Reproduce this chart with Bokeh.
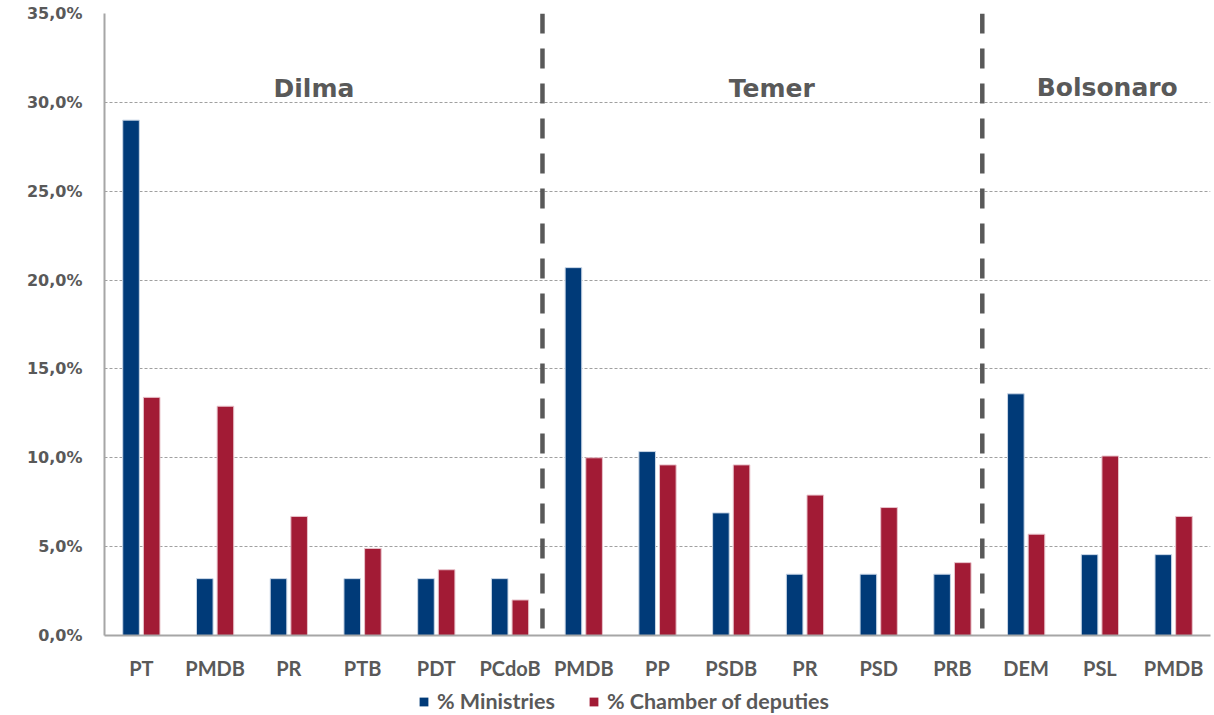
from bokeh.plotting import figure
from bokeh.layouts import column
from bokeh.models import ColumnDataSource, Span, Legend, LegendItem, FixedTicker, Label
from bokeh.embed import file_html
from bokeh.resources import INLINE

# ---- data ----
parties = ["PT", "PMDB", "PR", "PTB", "PDT", "PCdoB",
           "PMDB", "PP", "PSDB", "PR", "PSD", "PRB",
           "DEM", "PSL", "PMDB"]
ministries = [29.0, 3.2, 3.2, 3.2, 3.2, 3.2,
              20.7, 10.35, 6.9, 3.45, 3.45, 3.45,
              13.6, 4.55, 4.55]
chamber = [13.4, 12.9, 6.7, 4.9, 3.7, 2.0,
           10.0, 9.6, 9.6, 7.9, 7.2, 4.1,
           5.7, 10.1, 6.7]
eras = ["Dilma", "Temer", "Bolsonaro"]
era_label_x = [2.84, 9.05, 13.6]
era_label_y = [29.98, 29.98, 30.03]
era_separators = [5.94, 11.905]
y_ticks = [0, 5, 10, 15, 20, 25, 30, 35]
series_names = ["% Ministries", "% Chamber of deputies"]

BLUE = "#003A78"
RED = "#A21B35"
GRAY = "#595959"

n = len(parties)
centers = [i + 0.5 for i in range(n)]
src = ColumnDataSource(dict(
    x_min=[c - 0.14 for c in centers],
    x_cha=[c + 0.14 for c in centers],
    ministries=ministries,
    chamber=chamber,
))

p = figure(width=1214, height=685, x_range=(0, n), y_range=(0, 35),
           output_backend="svg", toolbar_location=None,
           min_border_left=104, min_border_right=4, min_border_top=13,
           min_border_bottom=50)
p.outline_line_color = None
p.background_fill_color = "white"

p.vbar(x="x_min", top="ministries", width=0.225, source=src,
       fill_color=BLUE, line_color="#c9d6e6", line_width=1)
p.vbar(x="x_cha", top="chamber", width=0.225, source=src,
       fill_color=RED, line_color="#e8c3cb", line_width=1)

# axes
p.xaxis.ticker = FixedTicker(ticks=centers)
p.xaxis.major_label_overrides = {c: lab for c, lab in zip(centers, parties)}
p.xaxis.major_tick_line_color = None
p.xaxis.minor_tick_line_color = None
p.xaxis.axis_line_color = "#A6A6A6"
p.xaxis.axis_line_width = 2
p.xaxis.major_label_text_font = "Lato"
p.xaxis.major_label_text_font_style = "bold"
p.xaxis.major_label_text_font_size = "20px"
p.xaxis.major_label_text_color = GRAY
p.xaxis.major_label_standoff = 14

p.yaxis.ticker = FixedTicker(ticks=y_ticks)
p.yaxis.major_label_overrides = {t: f"{t:.1f}%".replace(".", ",") for t in y_ticks}
p.yaxis.major_tick_line_color = None
p.yaxis.minor_tick_line_color = None
p.yaxis.axis_line_color = "#A6A6A6"
p.yaxis.axis_line_width = 2
p.yaxis.major_label_text_font = "DejaVu Sans"
p.yaxis.major_label_text_font_style = "bold"
p.yaxis.major_label_text_font_size = "16px"
p.yaxis.major_label_text_color = GRAY
p.yaxis.major_label_standoff = 16

p.xgrid.grid_line_color = None
p.ygrid.grid_line_color = "#A0A0A0"
p.ygrid.grid_line_dash = "3 2"
p.ygrid.grid_line_width = 1

for s in era_separators:
    p.add_layout(Span(location=s, dimension="height", line_color=GRAY,
                      line_width=4.5, line_dash="20 15"))

for name, ex, ey in zip(eras, era_label_x, era_label_y):
    p.add_layout(Label(x=ex, y=ey, text=name, text_align="center",
                       text_baseline="bottom", text_font="DejaVu Sans",
                       text_font_style="bold", text_font_size="25px",
                       text_color=GRAY))

# legend strip (separate figure so it sits below the axis labels);
# its bars use the same data but fall outside its visible range
lg = figure(width=1214, height=30, x_range=(100, 101), y_range=(100, 101),
            output_backend="svg", toolbar_location=None,
            x_axis_location=None, y_axis_location=None,
            min_border_left=0, min_border_right=0, min_border_top=0,
            min_border_bottom=0)
lg.grid.grid_line_color = None
lg.outline_line_color = None
k1 = lg.vbar(x="x_min", top="ministries", width=0.225, source=src,
             fill_color=BLUE, line_color=None)
k2 = lg.vbar(x="x_cha", top="chamber", width=0.225, source=src,
             fill_color=RED, line_color=None)
legend = Legend(items=[LegendItem(label=series_names[0], renderers=[k1], index=0),
                       LegendItem(label=series_names[1], renderers=[k2], index=0)],
                orientation="horizontal", location=(314, 1),
                label_text_font="Lato", label_text_font_style="bold",
                label_text_font_size="21.5px", label_text_color=GRAY,
                glyph_width=11, glyph_height=11, spacing=33,
                label_standoff=8, border_line_color=None,
                background_fill_alpha=0, padding=2, margin=0)
lg.add_layout(legend, "center")

layout = column(p, lg, spacing=0)
open("out.html", "w").write(file_html(layout, INLINE))
